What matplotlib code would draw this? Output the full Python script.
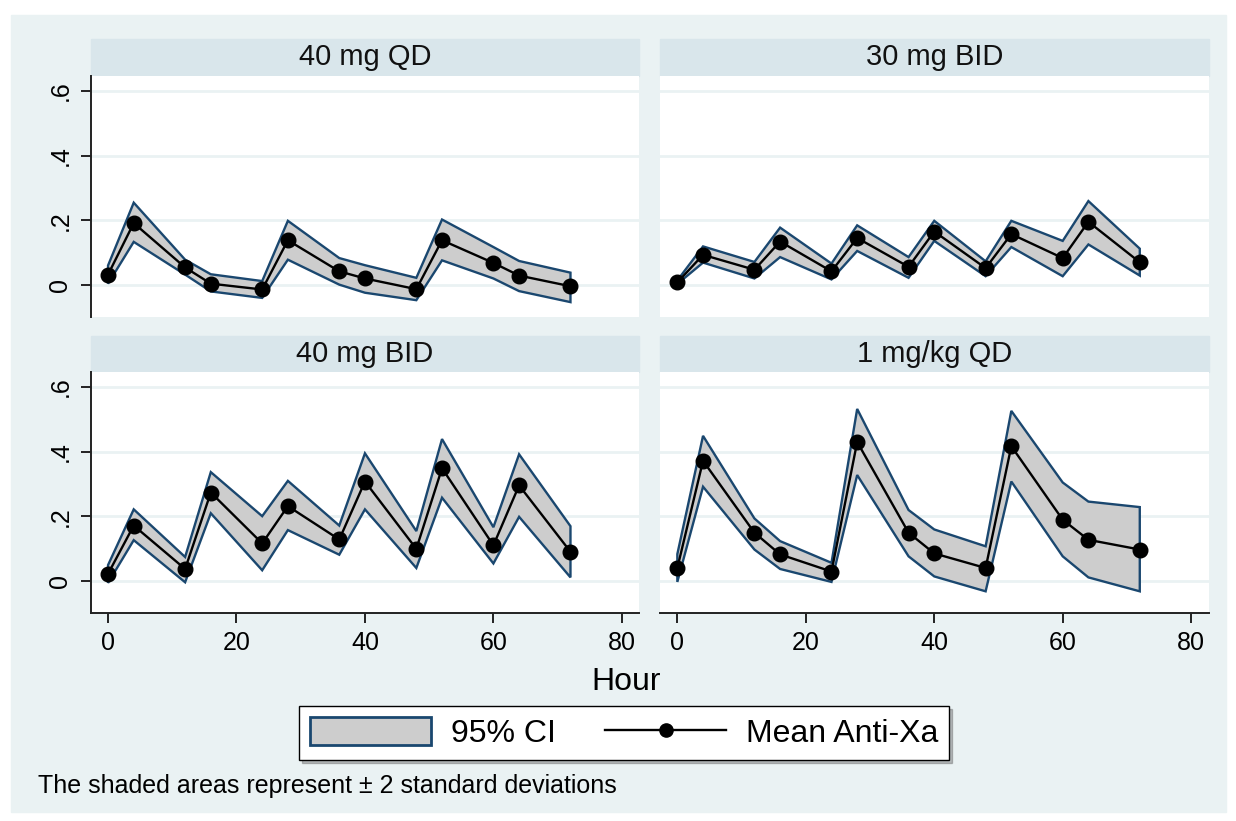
import numpy as np
import matplotlib.pyplot as plt
from matplotlib.patches import Rectangle, Patch
from matplotlib.lines import Line2D

plt.rcParams['font.family'] = ['Liberation Sans', 'DejaVu Sans']

# sampling hours (same for every regimen)
hours = [0, 4, 12, 16, 24, 28, 36, 40, 48, 52, 60, 64, 72]

titles = ['40 mg QD', '30 mg BID', '40 mg BID', '1 mg/kg QD']

# mean anti-Xa and the +/- 2 SD band
mean_40qd = [0.033, 0.192, 0.055, 0.005, -0.013, 0.139, 0.043, 0.021, -0.012, 0.139, 0.069, 0.030, -0.003]
lo_40qd = [0.005, 0.134, 0.033, -0.019, -0.039, 0.079, 0.002, -0.023, -0.046, 0.077, 0.021, -0.018, -0.052]
hi_40qd = [0.061, 0.255, 0.079, 0.034, 0.013, 0.199, 0.084, 0.062, 0.023, 0.203, 0.118, 0.075, 0.039]

mean_30bid = [0.009, 0.094, 0.048, 0.135, 0.043, 0.146, 0.057, 0.166, 0.053, 0.158, 0.084, 0.196, 0.071]
lo_30bid = [0.004, 0.070, 0.021, 0.087, 0.018, 0.106, 0.023, 0.137, 0.028, 0.118, 0.028, 0.126, 0.030]
hi_30bid = [0.015, 0.120, 0.072, 0.178, 0.067, 0.185, 0.087, 0.199, 0.074, 0.199, 0.137, 0.260, 0.113]

mean_40bid = [0.023, 0.172, 0.038, 0.274, 0.117, 0.232, 0.129, 0.308, 0.100, 0.349, 0.111, 0.296, 0.091]
lo_40bid = [-0.005, 0.127, -0.003, 0.210, 0.034, 0.158, 0.082, 0.222, 0.041, 0.258, 0.055, 0.199, 0.012]
hi_40bid = [0.050, 0.222, 0.075, 0.337, 0.201, 0.310, 0.172, 0.395, 0.155, 0.439, 0.167, 0.392, 0.170]

mean_1kg = [0.041, 0.372, 0.150, 0.083, 0.030, 0.430, 0.150, 0.086, 0.041, 0.417, 0.190, 0.128, 0.098]
lo_1kg = [-0.002, 0.292, 0.098, 0.038, -0.002, 0.328, 0.077, 0.015, -0.031, 0.308, 0.077, 0.012, -0.031]
hi_1kg = [0.084, 0.449, 0.194, 0.124, 0.057, 0.532, 0.220, 0.160, 0.108, 0.526, 0.305, 0.246, 0.229]

means = [mean_40qd, mean_30bid, mean_40bid, mean_1kg]
lows = [lo_40qd, lo_30bid, lo_40bid, lo_1kg]
highs = [hi_40qd, hi_30bid, hi_40bid, hi_1kg]

yticks = [0, 0.2, 0.4, 0.6]
ytick_labels = ['0', '.2', '.4', '.6']
xticks = [0, 20, 40, 60, 80]

bg = '#EAF2F3'
strip_col = '#D9E6EB'
grid_col = '#EAF2F3'
band_col = '#CDCDCD'
navy = '#1A476F'

W, H = 1236, 821
fig = plt.figure(figsize=(W / 100, H / 100), dpi=100)
fig.patches.append(Rectangle((11 / W, 1 - 812 / H), 1215 / W, 797 / H,
                             transform=fig.transFigure, color=bg, zorder=-10))

# pixel layout of the 2x2 panels
xs = [90.7, 660]
pw = 548.5
plot_top = [75.7, 371.7]
strip_top = [39, 336]
ph = 241

for i in range(4):
    r, c = divmod(i, 2)
    x0 = xs[c]
    ax = fig.add_axes([x0 / W, 1 - (plot_top[r] + ph) / H, pw / W, ph / H])
    ax.set_zorder(2)
    # strip header
    sh = plot_top[r] - strip_top[r]
    fig.patches.append(Rectangle((x0 / W, 1 - plot_top[r] / H), pw / W, sh / H,
                                 transform=fig.transFigure, color=strip_col, zorder=-5))
    fig.text((x0 + pw / 2) / W, 1 - (strip_top[r] + sh / 2) / H, titles[i],
             ha='center', va='center', fontsize=21, color='#111111')

    xp = np.concatenate([hours, hours[::-1]])
    yp = np.concatenate([highs[i], lows[i][::-1]])
    ax.fill(xp, yp, facecolor=band_col, edgecolor=navy, lw=1.7, zorder=2)
    ax.plot(hours, means[i], color='black', lw=1.7, marker='o', ms=10.5,
            mfc='black', mec='black', zorder=3)

    ax.set_xlim(-2.7, 82.7)
    ax.set_ylim(-0.097, 0.647)
    ax.set_facecolor('white')
    ax.set_yticks(yticks)
    ax.set_yticklabels(ytick_labels, rotation=90, va='center')
    ax.set_xticks(xticks)
    ax.yaxis.grid(True, color=grid_col, lw=2)
    ax.set_axisbelow(True)
    for s in ['top', 'right']:
        ax.spines[s].set_visible(False)
    for s in ['left', 'bottom']:
        ax.spines[s].set_linewidth(1.4)
        ax.spines[s].set_color('#222222')
    ax.tick_params(length=7.2, width=1.4, color='#222222', labelsize=18, pad=6)
    if r == 0:
        ax.spines['bottom'].set_visible(False)
        ax.tick_params(axis='x', bottom=False, labelbottom=False)
    if c == 1:
        ax.spines['left'].set_visible(False)
        ax.tick_params(axis='y', left=False, labelleft=False)

fig.text(626 / W, 1 - 682 / H, 'Hour', ha='center', va='center', fontsize=23)

handles = [Patch(facecolor=band_col, edgecolor=navy, lw=2),
           Line2D([], [], color='black', lw=1.7, marker='o', ms=9.5, mfc='black')]
leg = fig.legend(handles, ['95% CI', 'Mean Anti-Xa'], ncol=2, loc='center',
                 bbox_to_anchor=(624 / W, 1 - 733 / H), frameon=True, fancybox=False,
                 shadow={'alpha': 0.35}, edgecolor='black', fontsize=23,
                 handlelength=3.8, handleheight=0.95, handletextpad=0.6,
                 columnspacing=1.55, borderpad=0.35, borderaxespad=0)
leg.get_frame().set_linewidth(1.0)
leg.get_frame().set_alpha(1)

fig.text(38 / W, 1 - 786 / H, 'The shaded areas represent \u00b1 2 standard deviations',
         ha='left', va='center', fontsize=18)

fig.savefig('out.png', dpi=100, facecolor='white')
